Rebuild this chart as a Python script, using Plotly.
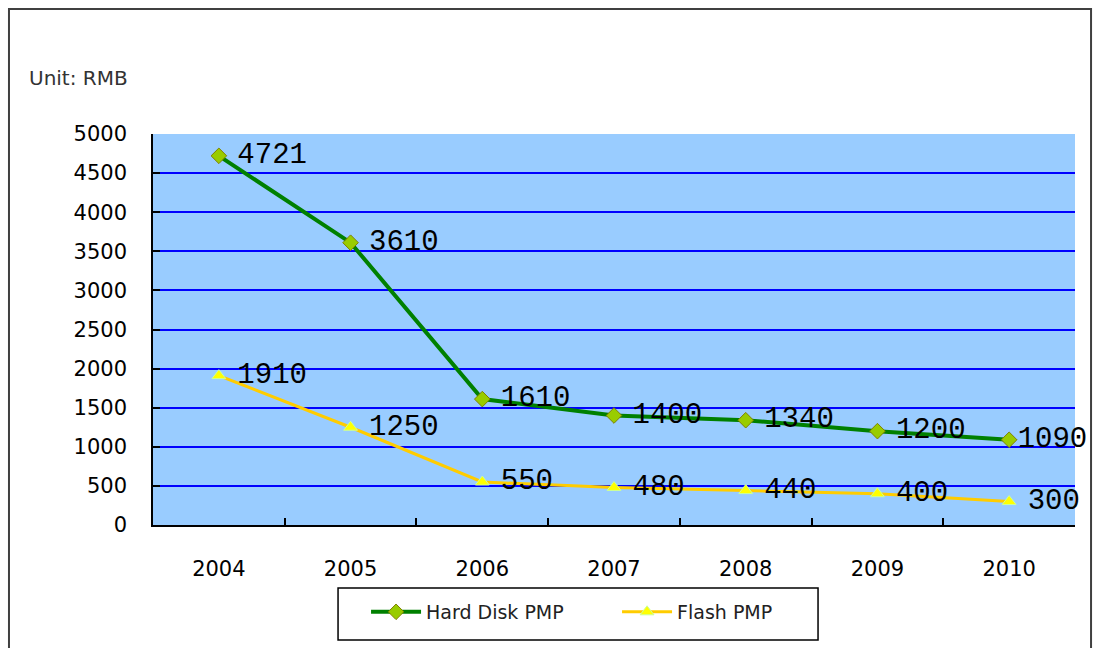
import plotly.graph_objects as go

years = ["2004", "2005", "2006", "2007", "2008", "2009", "2010"]
hard_disk = [4721, 3610, 1610, 1400, 1340, 1200, 1090]
flash = [1910, 1250, 550, 480, 440, 400, 300]

label_font = dict(family="Liberation Mono", size=29, color="#000000")

fig = go.Figure()
fig.add_trace(go.Scatter(
    x=years, y=hard_disk, name="Hard Disk PMP", mode="lines+markers",
    line=dict(color="#008000", width=4),
    marker=dict(symbol="diamond", size=12, color="#99CC00", line=dict(color="#808000", width=1)),
))
fig.add_trace(go.Scatter(
    x=years, y=flash, name="Flash PMP", mode="lines+markers",
    line=dict(color="#FFCC00", width=3),
    marker=dict(symbol="triangle-up", size=12, color="#FFFF00", line=dict(color="#CCFF99", width=1)),
))
label_gaps = {
    "hard": [28, 28, 28, 28, 28, 28, 12],
    "flash": [28, 28, 28, 28, 28, 28, 28],
}
for vals, gaps in ((hard_disk, label_gaps["hard"]), (flash, label_gaps["flash"])):
    fig.add_trace(go.Scatter(
        x=years, y=vals, mode="markers+text", showlegend=False, hoverinfo="skip",
        marker=dict(size=gaps, opacity=0),
        text=[str(v) for v in vals], textposition="middle right", textfont=label_font,
        cliponaxis=False,
    ))

fig.update_layout(
    width=1093, height=648,
    margin=dict(l=153, r=18, t=134, b=123),
    paper_bgcolor="#FFFFFF", plot_bgcolor="#99CCFF",
    showlegend=True,
    legend=dict(
        orientation="h", xref="container", yref="container",
        x=0.3349, xanchor="left", y=0.0556, yanchor="middle",
        borderwidth=0, bgcolor="rgba(0,0,0,0)",
        font=dict(family="DejaVu Sans", size=19, color="#222222"),
        itemwidth=50, entrywidth=186,
    ),
    xaxis=dict(
        type="category", range=[-0.5, 6.5], tickson="boundaries", ticks="inside", ticklen=7,
        tickcolor="#000000", tickwidth=1.5,
        showline=True, linecolor="#000000", linewidth=1.5, mirror=False,
        showgrid=False, ticklabelstandoff=24,
        tickfont=dict(family="DejaVu Sans", size=21, color="#000000"),
    ),
    yaxis=dict(
        range=[0, 5000], dtick=500, ticks="inside", ticklen=7,
        tickcolor="#000000", tickwidth=1.5,
        showline=True, linecolor="#000000", linewidth=1.5,
        showgrid=True, gridcolor="#0000FF", gridwidth=2, zeroline=False,
        ticklabelstandoff=20,
        tickfont=dict(family="DejaVu Sans", size=21, color="#000000"),
    ),
    annotations=[dict(
        text="Unit: RMB", xref="paper", yref="paper", x=-0.1367, y=1.143,
        xanchor="left", yanchor="middle", showarrow=False,
        font=dict(family="DejaVu Sans", size=20, color="#333333"),
    )],
    shapes=[
        dict(type="rect", xref="paper", yref="paper",
             x0=-0.1562, x1=1.0174, y0=-0.4, y1=1.3197,
             line=dict(color="#404040", width=2), layer="below"),
        dict(type="rect", xref="paper", yref="paper",
             x0=0.2007, x1=0.7213, y0=-0.2941, y1=-0.1611,
             line=dict(color="#000000", width=1.5), layer="below"),
    ],
)

fig.write_html(
    "out.html",
    config={"displayModeBar": False},
    post_script="document.body.style.margin='0';document.body.style.overflow='hidden';",
)
